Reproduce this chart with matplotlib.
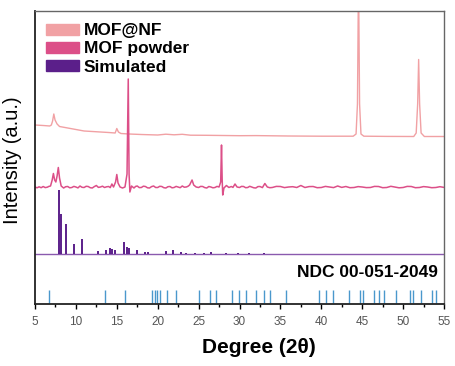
import numpy as np
import matplotlib.pyplot as plt
from matplotlib.patches import Patch
from matplotlib.ticker import MultipleLocator

plt.rcParams['font.family'] = ['Liberation Sans', 'DejaVu Sans']

# ==========================================
# DATA (offsets already included)
# ==========================================
# MOF@NF trace, (2theta, intensity)
nf_points = [
    (5.0, 179), (6.0, 178.5), (6.8, 178), (7.0, 179), (7.15, 183), (7.3, 190),
    (7.45, 184), (7.7, 180), (8.0, 177.5), (9.0, 176), (10.0, 174.5), (11.0, 173),
    (12.0, 172.5), (13.0, 172), (14.0, 171.5), (14.8, 171), (15.0, 175.5), (15.2, 172),
    (15.5, 170.5), (16.5, 170), (18.0, 169.5), (20.0, 169), (21.0, 169.8), (22.0, 169.2),
    (23.0, 169.7), (24.0, 168.8), (26.0, 168.7), (28.0, 168.5), (30.0, 168.3),
    (32.0, 168.4), (34.0, 168.2), (36.0, 168), (40.0, 167.8), (43.9, 167.8),
    (44.25, 170), (44.42, 200), (44.55, 330), (44.68, 200), (44.85, 170), (45.2, 167.8),
    (48.0, 167.6), (51.3, 167.5), (51.6, 171), (51.78, 200), (51.9, 244.5), (52.02, 200),
    (52.2, 171), (52.6, 167.5), (55.0, 167.5),
]

# MOF powder trace, (2theta, intensity)
pw_points = [
    (5.0, 117), (5.25, 116.2), (5.5, 117.2), (5.75, 116.3), (6.0, 117.5), (6.25, 116.4),
    (6.5, 116.8), (6.7, 117.6), (6.9, 118), (7.1, 124), (7.25, 130.5), (7.4, 124),
    (7.55, 122), (7.7, 128), (7.85, 136.5), (8.0, 126), (8.2, 118), (8.5, 116),
    (8.75, 117.3), (9.0, 117.5), (9.25, 116.2), (9.5, 116.5), (9.75, 117.6), (10.0, 117),
    (10.25, 116.1), (10.5, 118), (10.75, 116.7), (11.0, 116.5), (11.25, 117.7),
    (11.5, 117.5), (11.75, 116.3), (12.0, 116), (12.25, 117.4), (12.5, 118.5),
    (12.75, 116.6), (13.0, 117), (13.25, 117.8), (13.5, 116.5), (13.75, 117.2),
    (14.0, 117.5), (14.2, 116.4), (14.4, 120), (14.6, 117), (14.85, 122), (15.0, 129.5),
    (15.15, 121), (15.4, 117), (15.7, 116), (16.0, 117), (16.25, 130), (16.4, 225),
    (16.5, 130), (16.6, 112), (16.8, 118), (17.1, 116), (17.3, 117.6), (17.5, 118),
    (17.75, 116.4), (18.0, 116.5), (18.25, 117.8), (18.5, 117.5), (18.75, 116.2),
    (19.0, 116), (19.25, 117.4), (19.5, 118), (19.75, 116.5), (20.0, 116.5),
    (20.25, 117.7), (20.5, 117.5), (20.75, 116.3), (21.0, 116), (21.25, 117.3),
    (21.5, 117.5), (21.75, 116.2), (22.0, 116.5), (22.25, 117.6), (22.5, 117),
    (22.75, 116.3), (23.0, 118), (23.25, 116.8), (23.5, 117), (23.7, 117.7), (23.9, 119),
    (24.2, 124), (24.4, 119), (24.7, 117), (25.0, 116.5), (25.25, 117.6), (25.5, 117.5),
    (25.75, 116.4), (26.0, 116), (26.25, 117.5), (26.5, 117), (26.75, 116.2), (27.0, 116.5),
    (27.25, 117.6), (27.5, 117), (27.7, 122), (27.8, 159), (27.88, 125), (27.95, 109),
    (28.1, 116), (28.4, 118.5), (28.7, 116.5), (29.0, 117.5), (29.2, 116.6), (29.45, 120),
    (29.7, 117), (30.0, 116.5), (30.25, 117.6), (30.5, 117.5), (30.75, 116.3),
    (31.0, 116.5), (31.25, 117.7), (31.5, 117), (31.75, 116.2), (32.0, 116),
    (32.25, 117.4), (32.5, 117.5), (32.8, 116.4), (33.1, 120.5), (33.4, 117),
    (33.7, 116.3), (34.0, 116.5), (34.5, 117.6), (35.0, 117.5), (35.5, 116.4),
    (36.0, 117), (36.5, 117.3), (37.0, 116.5), (37.5, 118.5), (38.0, 116.5), (38.5, 117.4),
    (39.0, 117.5), (39.5, 116.3), (40.0, 116.5), (40.5, 117.6), (41.0, 117),
    (41.5, 116.4), (42.0, 118), (42.5, 116.6), (43.0, 117.5), (43.5, 116.3), (44.0, 116.5),
    (44.5, 117.4), (45.0, 117), (45.5, 116.4), (46.0, 116.5), (46.5, 117.6), (47.0, 117.5),
    (47.5, 116.3), (48.0, 116.5), (48.5, 117.7), (49.0, 117), (49.5, 116.2), (50.0, 116.5),
    (50.5, 117.6), (51.0, 117.5), (51.5, 116.3), (52.0, 116.5), (52.5, 117.4), (53.0, 117),
    (53.5, 116.3), (54.0, 116.5), (54.5, 117.3), (55.0, 116.6),
]

# Simulated stick pattern
sim_base = 50.5
sim_pos = [7.93, 8.14, 8.79, 9.77, 10.7, 12.74, 13.7, 14.2, 14.4, 14.82, 15.84, 16.25,
           16.45, 17.5, 18.45, 18.85, 20.98, 21.83, 22.8, 23.4, 24.6, 25.7, 26.5, 28.4,
           29.8, 31.2, 33.0]
sim_height = [64, 40, 30, 10, 14.5, 2.5, 3.5, 5.5, 5, 3.5, 12, 6.5, 5.5, 4, 1.5, 1.5,
              2.5, 4, 1.5, 1, 1, 1, 1.5, 1, 1, 1, 1]

# Reference card NDC 00-051-2049
ref_pos = [6.75, 13.55, 15.95, 19.3, 19.7, 19.95, 20.3, 21.1, 22.2, 25.05, 26.4, 27.1,
           29.05, 29.9, 30.75, 32.05, 32.95, 33.75, 35.65, 39.7, 40.6, 41.4, 43.4,
           44.75, 45.1, 46.4, 47.0, 47.65, 49.1, 50.8, 51.2, 52.2, 53.5, 54.0]

labels = ['MOF@NF', 'MOF powder', 'Simulated']
colors = ['#F1A1A4', '#DC4F88', '#5B1F8A']

nf_x, nf_y = zip(*nf_points)
pw_x, pw_y = zip(*pw_points)

# ==========================================
# PLOT
# ==========================================
fig = plt.figure(figsize=(4.55, 3.66), dpi=100)
ax = fig.add_axes([35 / 455, 62 / 366, 409 / 455, 293 / 366])

ax.plot(nf_x, nf_y, color=colors[0], lw=1.0)
ax.plot(pw_x, pw_y, color=colors[1], lw=1.1)
ax.axhline(sim_base, color='#8A5AAE', lw=1.0)
ax.vlines(sim_pos, sim_base, np.array(sim_height) + sim_base, color=colors[2], lw=1.4)
ax.vlines(ref_pos, 1.5, 14, color='#4A98CC', lw=1.0)

ax.text(0.985, 0.091, 'NDC 00-051-2049', transform=ax.transAxes, ha='right',
        va='baseline', fontsize=12.5, fontweight='bold')

ax.set_xlim(5, 55)
ax.set_ylim(0, 293)
ax.xaxis.set_major_locator(MultipleLocator(5))
ax.xaxis.set_minor_locator(MultipleLocator(2.5))
ax.set_yticks([])
ax.tick_params(axis='x', which='major', direction='out', length=3.6, width=1.0,
               labelsize=8.5, labelcolor='#555555', pad=5)
ax.tick_params(axis='x', which='minor', direction='out', length=2.2, width=1.0)

for side in ['left', 'bottom']:
    ax.spines[side].set_color('#222222')
    ax.spines[side].set_linewidth(1.3)
for side in ['top', 'right']:
    ax.spines[side].set_color('#666666')
    ax.spines[side].set_linewidth(1.0)

ax.set_xlabel('Degree (2θ)', fontsize=15, fontweight='bold')
ax.xaxis.set_label_coords(224 / 409, -0.115)
ax.set_ylabel('Intensity (a.u.)', fontsize=14.5)
ax.yaxis.set_label_coords(-0.032, 0.49)

handles = [Patch(color=c) for c in colors]
leg = ax.legend(handles, labels, loc='upper left', bbox_to_anchor=(0.026, 0.958),
                frameon=False, borderpad=0, borderaxespad=0, handlelength=1.9,
                handleheight=0.6, handletextpad=0.3, labelspacing=0.18,
                prop={'size': 12.5, 'weight': 'bold'})

fig.savefig('out.png', dpi=100)
